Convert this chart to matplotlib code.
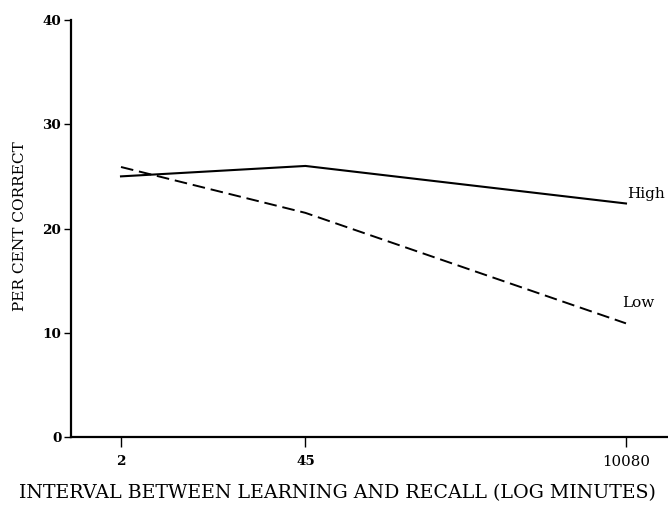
import matplotlib
matplotlib.use("Agg")
import matplotlib.pyplot as plt
from matplotlib.ticker import FixedLocator, FixedFormatter, NullLocator

intervals = [2, 45, 10080]
tick_labels = ["2", "45", "10080"]
high = [25.0, 26.0, 22.4]
low = [25.9, 21.5, 10.9]
y_ticks = [0, 10, 20, 30, 40]

plt.rcParams['font.family'] = ['DejaVu Serif']

fig = plt.figure(figsize=(6.68, 5.12), dpi=100)
W, H = 668, 512
left, right, bottom, top = 71 / W, 1.0, 1 - 437 / H, 1 - 20 / H
ax = fig.add_axes([left, bottom, right - left, top - bottom])

ax.plot(intervals, high, color='black', lw=1.5)
ax.plot(intervals, low, color='black', lw=1.4, linestyle=(0, (6.5, 3)))

ax.set_xscale('log')
ax.set_xlim(0.86, 20490)
ax.set_ylim(0, 40)

ax.xaxis.set_major_locator(FixedLocator(intervals))
ax.xaxis.set_major_formatter(FixedFormatter(tick_labels))
ax.xaxis.set_minor_locator(NullLocator())
ax.set_yticks(y_ticks)

for s in ['top', 'right']:
    ax.spines[s].set_visible(False)
for s in ['left', 'bottom']:
    ax.spines[s].set_linewidth(1.6)

ax.tick_params(axis='y', direction='out', length=5, width=1.0, labelsize=9.7, pad=2)
ax.tick_params(axis='x', direction='out', length=7, width=1.0, labelsize=9.7, pad=6)
for lab in ax.get_yticklabels():
    lab.set_fontweight('bold')
xl = ax.get_xticklabels()
for lab in xl[:2]:
    lab.set_fontweight('bold')
xl[2].set_fontsize(10.8)

ax.set_xlabel("INTERVAL BETWEEN LEARNING AND RECALL (LOG MINUTES)", fontsize=10)
ax.set_ylabel("PER CENT CORRECT", fontsize=10)
ax.xaxis.set_label_coords((337 - 71) / (W - 71), (437 - 493) / 417)
ax.yaxis.set_label_coords((20 - 71) / (W - 71), (437 - 226) / 417)
ax.xaxis.label.set_va('center')
ax.yaxis.label.set_va('center')

ax.annotate("High", xy=(intervals[-1], high[-1]), xytext=(627, H - 194),
            textcoords='figure pixels', fontsize=11, va='center', ha='left')
ax.annotate("Low", xy=(intervals[-1], low[-1]), xytext=(622, H - 303),
            textcoords='figure pixels', fontsize=11, va='center', ha='left')

# fit label sizes to the reference extents
fig.canvas.draw()
r = fig.canvas.get_renderer()
for lab, target, horiz in [(ax.xaxis.label, 635, True), (ax.yaxis.label, 170, False)]:
    bb = lab.get_window_extent(r)
    cur = bb.width if horiz else bb.height
    lab.set_fontsize(lab.get_fontsize() * target / cur)

fig.savefig("out.png", dpi=100)
